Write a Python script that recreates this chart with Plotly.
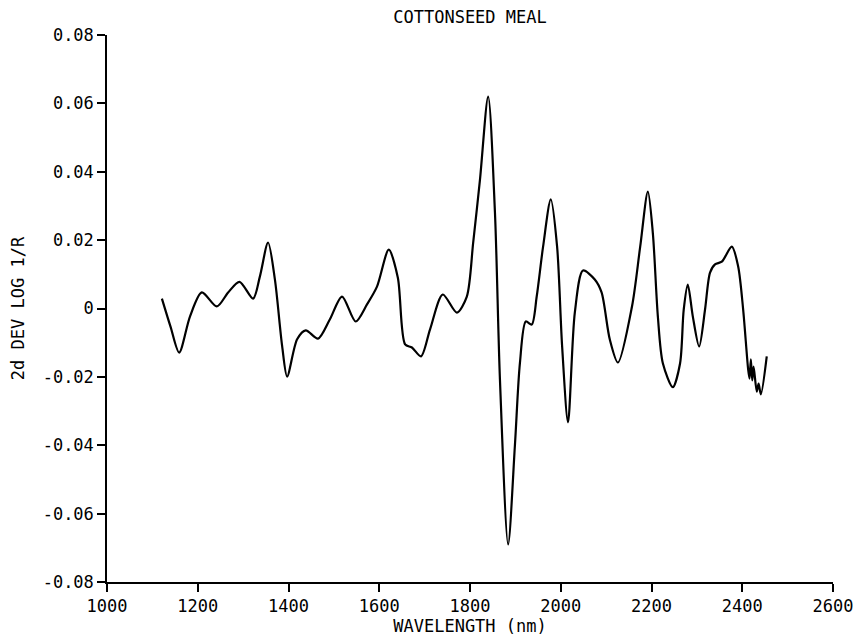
import plotly.graph_objects as go

wavelength = [1121, 1140, 1159, 1183, 1209, 1242, 1267, 1292, 1322, 1337, 1355, 1370,
              1386, 1397, 1419, 1438, 1465, 1491, 1518, 1548, 1573, 1595, 1621, 1641,
              1657, 1672, 1692, 1712, 1740, 1771, 1793, 1807, 1822, 1840, 1855, 1866,
              1884, 1899, 1910, 1923, 1936, 1947, 1961, 1978, 1992, 2003, 2016, 2031,
              2049, 2075, 2090, 2108, 2126, 2157, 2175, 2192, 2203, 2214, 2225, 2247,
              2263, 2271, 2280, 2291, 2305, 2318, 2329, 2340, 2355, 2377, 2391, 2402,
              2413, 2416, 2419, 2422, 2425, 2432, 2436, 2441, 2454]
deriv = [0.0029, -0.0053, -0.0129, -0.0023, 0.0047, 0.0006, 0.0047, 0.0078, 0.0029, 0.0094, 0.0193, 0.0085,
         -0.0110, -0.0199, -0.0090, -0.0064, -0.0088, -0.0032, 0.0035, -0.0038, 0.0012, 0.0064, 0.0172, 0.0090,
         -0.0105, -0.0114, -0.0140, -0.0061, 0.0041, -0.0012, 0.0035, 0.0193, 0.0377, 0.0620, 0.0280, -0.0208,
         -0.0690, -0.0400, -0.0160, -0.0038, -0.0047, 0.0035, 0.0180, 0.0319, 0.0180, -0.0110, -0.0333, -0.0012,
         0.0111, 0.0085, 0.0047, -0.0090, -0.0158, 0.0006, 0.0180, 0.0342, 0.0220, -0.0023, -0.0160, -0.0230,
         -0.0160, -0.0003, 0.0070, -0.0023, -0.0111, -0.0003, 0.0105, 0.0129, 0.0137, 0.0181, 0.0123, -0.0003,
         -0.0178, -0.0205, -0.0149, -0.0210, -0.0170, -0.0243, -0.0220, -0.0251, -0.0140]

x_ticks = [1000, 1200, 1400, 1600, 1800, 2000, 2200, 2400, 2600]
x_tick_labels = [str(v) for v in x_ticks]
y_ticks = [-0.08, -0.06, -0.04, -0.02, 0, 0.02, 0.04, 0.06, 0.08]
y_tick_labels = ["-0.08", "-0.06", "-0.04", "-0.02", "0", "0.02", "0.04", "0.06", "0.08"]

FONT = "DejaVu Sans Mono"
FS = 17

fig = go.Figure()
fig.add_trace(go.Scatter(
    x=wavelength, y=deriv, mode="lines",
    line=dict(color="black", width=2.2, shape="spline", smoothing=0.8),
    showlegend=False, hoverinfo="x+y",
))

fig.update_layout(
    width=853, height=636,
    paper_bgcolor="white", plot_bgcolor="white",
    margin=dict(l=107, r=20, t=35, b=54, autoexpand=False),
    font=dict(family=FONT, size=FS, color="black"),
    title=dict(text="COTTONSEED MEAL", x=0.551, xanchor="center", y=0.973, yanchor="middle",
               font=dict(family=FONT, size=FS, color="black")),
)
fig.update_xaxes(
    range=[1000, 2600], tickmode="array", tickvals=x_ticks, ticktext=x_tick_labels,
    showgrid=False, zeroline=False, showline=True, linecolor="black", linewidth=1.5,
    ticks="outside", ticklen=8, tickwidth=1.5, tickcolor="black", automargin=False,
    ticklabeloverflow="allow",
    title=dict(text="WAVELENGTH (nm)", standoff=14, font=dict(family=FONT, size=FS)),
)
fig.update_yaxes(
    range=[-0.08, 0.08], tickmode="array", tickvals=y_ticks, ticktext=y_tick_labels,
    showgrid=False, zeroline=False, showline=True, linecolor="black", linewidth=1.5,
    ticks="outside", ticklen=8, tickwidth=1.5, tickcolor="black", automargin=False,
    ticklabeloverflow="allow",
    title=dict(text="2d DEV LOG 1/R", standoff=14, font=dict(family=FONT, size=FS)),
)

fig.write_html("out.html")
